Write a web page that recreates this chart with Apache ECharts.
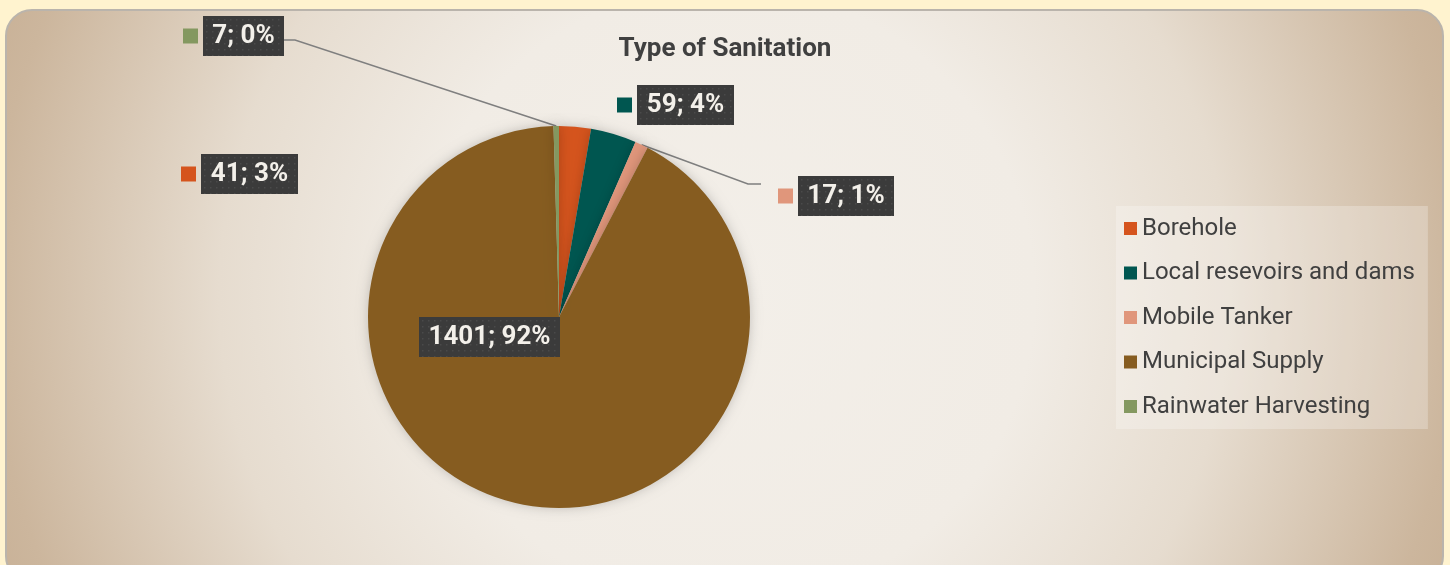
<!DOCTYPE html>
<html lang="en">
<head>
<meta charset="UTF-8">
<title>Type of Sanitation</title>
<script src="https://cdn.jsdelivr.net/npm/echarts@6/dist/echarts.min.js"></script>
<style>html,body{margin:0;padding:0;background:#fff3cf;}</style>
</head>
<body>
<div id="container" style="width:1450px;height:565px;"></div>
<script>
var categories = ['Borehole', 'Local resevoirs and dams', 'Mobile Tanker', 'Municipal Supply', 'Rainwater Harvesting'];
var values = [41, 59, 17, 1401, 7];
var colors = ['#d5541d', '#005650', '#e0967b', '#865c20', '#849860'];

// where the data labels sit (left edge, vertical middle), as placed in the original
var labelPos = [[181, 174], [617, 105], [778, 196], [419, 337], [183, 36]];
// width of each dark label box
var boxWidths = [97, 97, 96, 141, 81];
// leader lines only for the two thin slices: bend point, end point
var lineEnds = {2: [[748, 184], [761, 184]], 4: [[295, 40], [283, 40]]};

var total = values.reduce(function (a, b) { return a + b; }, 0);
function labelText(i) {
    return values[i] + '; ' + Math.round(values[i] / total * 100) + '%';
}

// dark dotted box behind the labels
function dotBox(w, h) {
    var c = document.createElement('canvas');
    c.width = w; c.height = h;
    var ctx = c.getContext('2d');
    ctx.fillStyle = '#3b3b3b';
    ctx.fillRect(0, 0, w, h);
    ctx.fillStyle = '#4a4a4a';
    for (var y = 3; y < h; y += 6) {
        for (var x = 3; x < w; x += 6) {
            ctx.fillRect(x, y, 1.5, 1.5);
        }
    }
    return c;
}

var rich = {g: {width: 5, height: 15}};
values.forEach(function (v, i) {
    rich['s' + i] = {width: 15, height: 15, backgroundColor: colors[i], verticalAlign: 'middle'};
    rich['b' + i] = {
        backgroundColor: {image: dotBox(boxWidths[i], 40)},
        width: boxWidths[i] - 20,
        height: 28,
        align: 'center',
        color: '#f3f0ea',
        fontSize: 26,
        fontWeight: 'bold',
        fontFamily: 'Roboto',
        lineHeight: 28,
        padding: [6, 10],
        verticalAlign: 'middle',
        shadowBlur: 6,
        shadowOffsetX: 3,
        shadowOffsetY: 3,
        shadowColor: 'rgba(0,0,0,0.45)'
    };
});

var pieData = categories.map(function (name, i) {
    return {
        name: name,
        value: values[i],
        itemStyle: {color: colors[i]},
        labelLine: {show: !!lineEnds[i]}
    };
});

var myChart = echarts.init(document.getElementById('container'));

myChart.setOption({
    backgroundColor: '#fff3cf',
    animation: false,
    graphic: [{
        type: 'rect',
        silent: true,
        z: -1,
        shape: {x: 6, y: 10, width: 1437, height: 572, r: 26},
        style: {
            fill: new echarts.graphic.RadialGradient(0.5, 0.5, 1.42, [
                {offset: 0, color: '#f3efe9'},
                {offset: 0.38, color: '#f1ece5'},
                {offset: 0.62, color: '#e6dccf'},
                {offset: 0.9, color: '#ccb69d'},
                {offset: 1, color: '#c6ae93'}
            ]),
            stroke: '#bab4ac',
            lineWidth: 2
        }
    }],
    title: {
        text: 'Type of Sanitation',
        left: 'center',
        top: 31,
        textStyle: {
            fontFamily: 'Roboto',
            fontSize: 26,
            fontWeight: 'bold',
            color: '#404040'
        }
    },
    legend: {
        orient: 'vertical',
        left: 1116,
        top: 206,
        padding: [10.5, 13, 10.5, 8],
        itemGap: 20.5,
        itemWidth: 13,
        itemHeight: 13,
        icon: 'rect',
        backgroundColor: 'rgba(255,255,255,0.25)',
        data: categories,
        textStyle: {
            fontFamily: 'Roboto',
            fontSize: 24,
            lineHeight: 24,
            color: '#404040'
        }
    },
    series: [{
        type: 'pie',
        center: [559, 317],
        radius: 191,
        startAngle: 90,
        clockwise: true,
        avoidLabelOverlap: false,
        itemStyle: {
            shadowBlur: 12,
            shadowColor: 'rgba(0,0,0,0.2)'
        },
        label: {
            show: true,
            position: 'outside',
            formatter: function (p) {
                var i = p.dataIndex;
                if (i === 3) {
                    return '{b3|' + labelText(i) + '}';
                }
                return '{s' + i + '|}{g|}{b' + i + '|' + labelText(i) + '}';
            },
            rich: rich
        },
        labelLine: {
            lineStyle: {color: '#7f7f7f', width: 1.5}
        },
        labelLayout: function (p) {
            var i = p.dataIndex;
            var out = {
                x: labelPos[i][0],
                y: labelPos[i][1],
                align: 'left',
                verticalAlign: 'middle'
            };
            if (lineEnds[i] && p.labelLinePoints) {
                out.labelLinePoints = [p.labelLinePoints[0]].concat(lineEnds[i]);
            }
            return out;
        },
        emphasis: {disabled: true},
        data: pieData
    }]
});
</script>
</body>
</html>
